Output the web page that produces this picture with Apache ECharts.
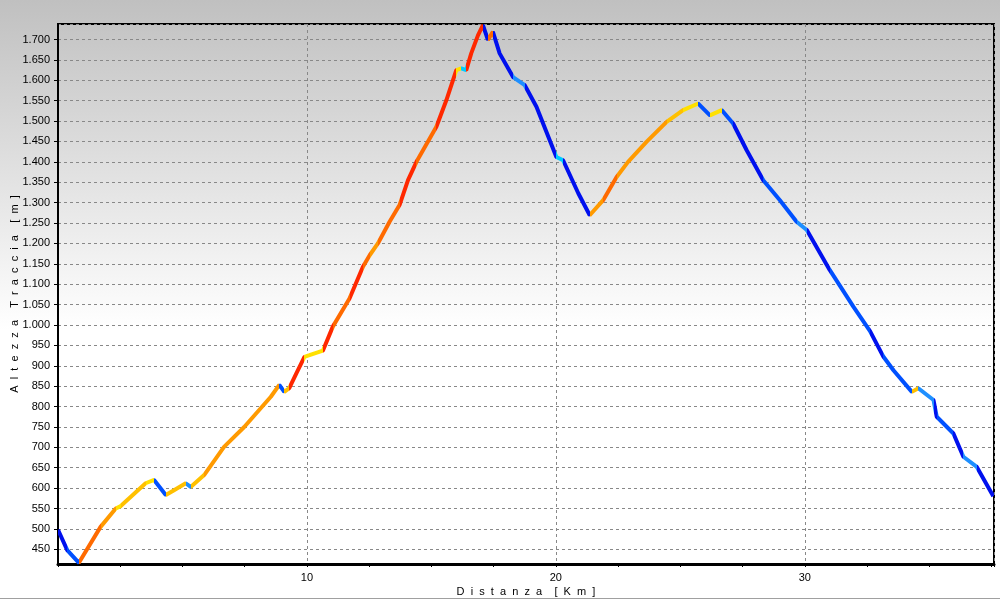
<!DOCTYPE html>
<html>
<head>
<meta charset="utf-8">
<script src="https://cdn.jsdelivr.net/npm/echarts@6/dist/echarts.min.js"></script>
<style>
    html, body { margin: 0; padding: 0; }
    #profilo {
        width: 1000px;
        height: 600px;
        background: linear-gradient(to bottom, #c0c0c0 0%, #ffffff 55%, #ffffff 100%);
    }
</style>
</head>
<body>
<div id="profilo"></div>
<script>
const distanzaKm = [
    0, 0.37, 0.84, 1.71, 2.32, 2.52, 3.52, 3.86, 4.33, 4.66,
    5.13, 5.33, 5.87, 6.67, 7.48, 8.55, 8.89, 9.09, 9.29, 9.57,
    9.9, 10.1, 10.64, 11.04, 11.71, 12.25, 12.52, 12.85, 13.32, 13.72,
    14.06, 14.4, 15.2, 15.6, 16.0, 16.2, 16.4, 16.6, 16.87, 17.07,
    17.27, 17.47, 17.74, 18.28, 18.75, 19.22, 20.02, 20.29, 20.9, 21.36,
    21.9, 22.44, 22.9, 23.64, 24.45, 25.11, 25.72, 26.19, 26.66, 27.12,
    27.66, 28.33, 29.0, 29.67, 30.08, 31.0, 31.95, 32.62, 33.16, 33.56,
    34.3, 34.56, 35.17, 35.3, 35.97, 36.37, 36.91, 37.51, 37.57
]
const altezzaM = [
    498, 448, 417, 505, 550, 556, 612, 620, 583, 595,
    612, 603, 632, 701, 750, 824, 853, 836, 845, 881,
    922, 926, 937, 996, 1065, 1143, 1171, 1200, 1253, 1294,
    1355, 1400, 1486, 1551, 1625, 1629, 1625, 1666, 1710, 1735,
    1699, 1719, 1666, 1608, 1588, 1535, 1412, 1404, 1323, 1269,
    1306, 1363, 1400, 1449, 1498, 1527, 1543, 1514, 1527, 1494,
    1429, 1355, 1306, 1253, 1233, 1135, 1045, 985, 922, 889,
    836, 845, 816, 775, 734, 677, 652, 587, 580
]
const yMin = 414
const yMax = 1738
const xMax = 37.6

// colore in base alla pendenza (%)
function pendenzaColore(p) {
    if (p < -10.5) return '#0010ee'
    if (p < -6) return '#0050ff'
    if (p < -3) return '#1e8fff'
    if (p < 0) return '#00ccff'
    if (p < 3) return '#ffe000'
    if (p < 6) return '#ffc000'
    if (p < 9) return '#ff9a00'
    if (p < 12) return '#ff6a00'
    return '#ff2800'
}

const pieces = []
for (let i = 0; i < distanzaKm.length - 1; i++) {
    const dx = distanzaKm[i + 1] - distanzaKm[i]
    const dy = altezzaM[i + 1] - altezzaM[i]
    const p = dy / (dx * 10)
    const piece = { gte: distanzaKm[i], color: pendenzaColore(p) }
    if (i === distanzaKm.length - 2) piece.lte = xMax
    else piece.lt = distanzaKm[i + 1]
    pieces.push(piece)
}

const seriesData = distanzaKm.map((d, i) => [d, altezzaM[i]])

// spaziatura tra le lettere dei titoli degli assi
const spaziato = s => s.split(' ').map(w => w.split('').join('  ')).join('    ')

const fontColor = '#000'
const fontFamily = 'Liberation Sans, Arial, sans-serif'
const myChart = echarts.init(document.getElementById('profilo'))

const option = {
    backgroundColor: 'transparent',
    animation: false,
    grid: {
        left: 58,
        right: 6,
        top: 24,
        bottom: 36,
        outerBoundsMode: 'none',
        containLabel: false,
        show: true,
        borderColor: '#000',
        borderWidth: 2,
        backgroundColor: 'transparent'
    },
    visualMap: {
        show: false,
        type: 'piecewise',
        dimension: 0,
        seriesIndex: 0,
        pieces: pieces
    },
    graphic: [
        {
            type: 'line',
            shape: { x1: 0, y1: 598.5, x2: 1000, y2: 598.5 },
            style: { stroke: '#a0a0a0', lineWidth: 1 }
        }
    ],
    xAxis: {
        type: 'value',
        min: 0,
        max: xMax,
        interval: 10,
        name: spaziato('Distanza [Km]'),
        nameLocation: 'middle',
        nameGap: 22,
        nameMoveOverlap: false,
        nameTextStyle: { color: fontColor, fontSize: 11, fontFamily: fontFamily },
        axisLine: { show: true, lineStyle: { color: '#000', width: 3 } },
        axisTick: { show: true, length: 3, lineStyle: { color: '#000' } },
        minorTick: { show: true, splitNumber: 4, length: 3, lineStyle: { color: '#000' } },
        axisLabel: {
            color: fontColor,
            fontSize: 11,
            fontFamily: fontFamily,
            margin: 8,
            showMaxLabel: false,
            formatter: v => (v > 0 && v % 10 === 0 ? String(v) : '')
        },
        splitLine: {
            show: true,
            lineStyle: { color: '#888', type: [3, 3], width: 1 }
        }
    },
    yAxis: {
        type: 'value',
        min: yMin,
        max: yMax,
        minInterval: 50,
        maxInterval: 50,
        name: spaziato('Altezza Traccia [m]'),
        nameLocation: 'middle',
        nameGap: 38,
        nameMoveOverlap: false,
        nameTextStyle: { color: fontColor, fontSize: 11, fontFamily: fontFamily },
        axisLine: { show: true, lineStyle: { color: '#000', width: 2 } },
        axisTick: { show: true, length: 4, lineStyle: { color: '#000' } },
        axisLabel: {
            color: fontColor,
            fontSize: 11,
            fontFamily: fontFamily,
            margin: 8,
            showMinLabel: false,
            showMaxLabel: false,
            formatter: v => String(v).replace(/\B(?=(\d{3})+(?!\d))/g, '.')
        },
        splitLine: {
            show: true,
            lineStyle: { color: '#888', type: [3, 3], width: 1 }
        }
    },
    series: [
        {
            name: 'Altezza',
            type: 'line',
            showSymbol: false,
            smooth: false,
            lineStyle: { width: 4 },
            data: seriesData
        }
    ]
}
myChart.setOption(option)
</script>
</body>
</html>
